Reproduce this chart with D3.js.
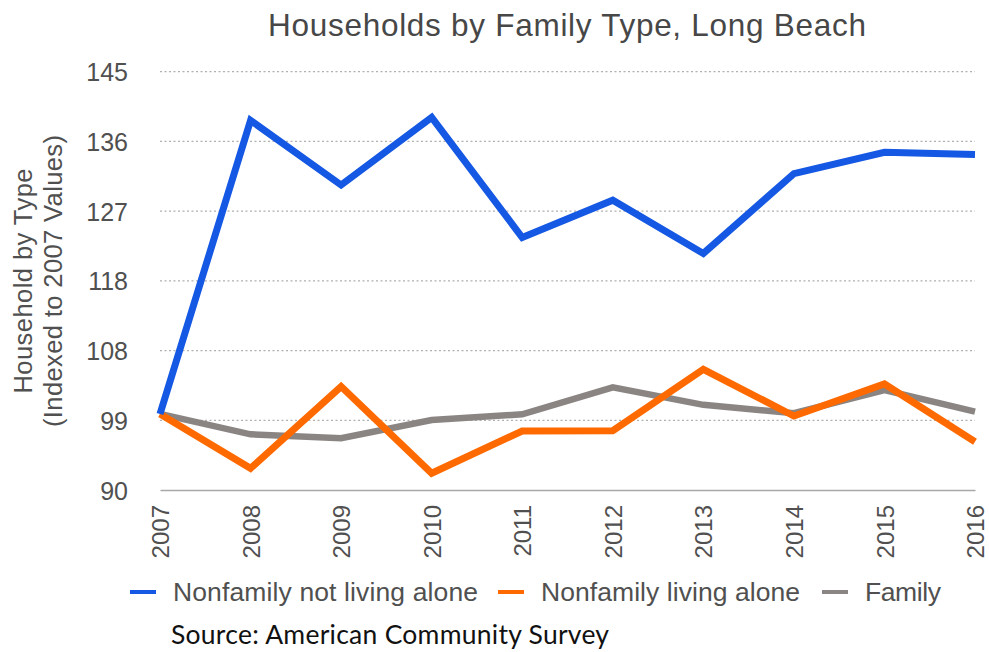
<!DOCTYPE html>
<html>
<head>
<meta charset="utf-8">
<script src="https://cdn.jsdelivr.net/npm/d3@7"></script>
<style>
  html, body { margin: 0; padding: 0; background: #fff; }
  svg { display: block; }
</style>
</head>
<body>
<svg id="chart" width="989" height="652"></svg>
<script>
// Household counts indexed to 2007 = 100
const years = [2007, 2008, 2009, 2010, 2011, 2012, 2013, 2014, 2015, 2016];
const nonfamilyNotAlone = [100, 138.6, 130.1, 139.0, 123.2, 128.1, 121.1, 131.6, 134.4, 134.1];
const nonfamilyAlone    = [100, 92.85, 103.6, 92.2, 97.76, 97.8, 105.87, 99.73, 103.94, 96.35];
const family            = [100, 97.32, 96.8, 99.2, 99.95, 103.5, 101.2, 100.1, 103.15, 100.3];

const seriesNames  = ["Nonfamily not living alone", "Nonfamily living alone", "Family"];
const seriesColors = ["#1558e3", "#ff6a00", "#8a8582"];
const yTicks = [90, 99.1667, 108.3333, 117.5, 126.6667, 135.8333, 145];

const svg = d3.select("#chart");
const font = "'Liberation Sans', Arial, Helvetica, sans-serif";
const textColor = "#505050";

const x = d3.scaleLinear().domain([2007, 2016]).range([160, 975]);
const y = d3.scaleLinear().domain([90, 145]).range([490, 71.7]);

// Title
svg.append("text")
  .attr("x", 268).attr("y", 35.5)
  .attr("font-family", font).attr("font-size", 31.5)
  .attr("textLength", 598).attr("lengthAdjust", "spacing")
  .attr("fill", "#474747")
  .text("Households by Family Type, Long Beach");

// Dotted horizontal gridlines (baseline drawn solid below)
svg.append("g")
  .selectAll("line")
  .data(yTicks.slice(1))
  .join("line")
  .attr("x1", 160).attr("x2", 975)
  .attr("y1", d => y(d)).attr("y2", d => y(d))
  .attr("stroke", "#b0b0b0").attr("stroke-width", 1.2)
  .attr("stroke-dasharray", "2,2.5");

// Y axis labels
const yAxis = d3.axisLeft(y)
  .tickValues(yTicks)
  .tickFormat(d => Math.round(d))
  .tickSize(0).tickPadding(0);
const yg = svg.append("g").attr("transform", "translate(128,0)").call(yAxis);
yg.select(".domain").remove();
yg.selectAll("text")
  .attr("font-family", font).attr("font-size", 25)
  .attr("fill", textColor).attr("dy", "0.36em");

// X axis (solid baseline + rotated year labels)
const xAxis = d3.axisBottom(x)
  .tickValues(years)
  .tickFormat(d3.format("d"))
  .tickSize(0).tickPadding(0);
const xg = svg.append("g").attr("transform", "translate(0,490)").call(xAxis);
xg.select(".domain").attr("stroke", "#a8a8a8").attr("stroke-width", 1.5);
xg.selectAll("text")
  .attr("font-family", font).attr("font-size", 24)
  .attr("fill", textColor)
  .attr("transform", "rotate(-90)")
  .attr("text-anchor", "end")
  .attr("x", -15).attr("y", 0).attr("dy", "0.36em");

// Y axis title, two rotated lines
const yTitle = [
  { text: "Household by Type", base: 32, len: 225 },
  { text: "(Indexed to 2007 Values)", base: 62, len: 292 }
];
yTitle.forEach(t => {
  svg.append("text")
    .attr("transform", `translate(${t.base},${281 + t.len / 2}) rotate(-90)`)
    .attr("x", 0).attr("y", 0)
    .attr("font-family", font).attr("font-size", 25.5)
    .attr("textLength", t.len).attr("lengthAdjust", "spacing")
    .attr("fill", textColor)
    .text(t.text);
});

// Lines
const seriesData = [nonfamilyNotAlone, nonfamilyAlone, family];
const line = d3.line().x((d, i) => x(years[i])).y(d => y(d));
// family first, then nonfamily alone, then nonfamily not alone on top
[2, 1, 0].forEach(k => {
  svg.append("path")
    .datum(seriesData[k])
    .attr("d", line)
    .attr("fill", "none")
    .attr("stroke", seriesColors[k])
    .attr("stroke-width", k === 2 ? 6.5 : 7)
    .attr("stroke-linejoin", "miter");
});

// Legend
const legendX = [130, 498, 822];
const legendLen = [305, 259, 76];
const lg = svg.append("g");
seriesNames.forEach((name, i) => {
  lg.append("line")
    .attr("x1", legendX[i]).attr("x2", legendX[i] + 26)
    .attr("y1", 592).attr("y2", 592)
    .attr("stroke", seriesColors[i]).attr("stroke-width", 4);
  lg.append("text")
    .attr("x", legendX[i] + 43).attr("y", 601)
    .attr("font-family", font).attr("font-size", 26.5)
    .attr("textLength", legendLen[i]).attr("lengthAdjust", "spacing")
    .attr("fill", textColor)
    .text(name);
});

// Source note
svg.append("text")
  .attr("x", 171).attr("y", 644)
  .attr("font-family", "Lato, 'Open Sans', sans-serif")
  .attr("font-size", 26.5)
  .attr("textLength", 438).attr("lengthAdjust", "spacing")
  .attr("fill", "#111")
  .text("Source: American Community Survey");
</script>
</body>
</html>
